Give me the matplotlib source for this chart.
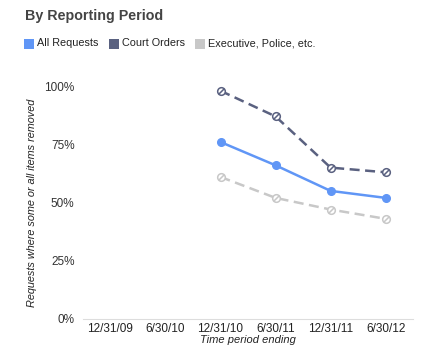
import matplotlib
matplotlib.use("Agg")
import matplotlib.pyplot as plt
from matplotlib.patches import Rectangle
from matplotlib.path import Path

periods = ["12/31/09", "6/30/10", "12/31/10", "6/30/11", "12/31/11", "6/30/12"]
all_requests = [None, None, 0.76, 0.66, 0.55, 0.52]
court_orders = [None, None, 0.98, 0.87, 0.65, 0.63]
executive = [None, None, 0.61, 0.52, 0.47, 0.43]

# circle with a slash through it
circ = Path.unit_circle()
slash = Path([(-0.7, -0.7), (0.7, 0.7)], [Path.MOVETO, Path.LINETO])
slashed = Path.make_compound_path(circ, slash)

series = [
    ("All Requests", all_requests, "#6096f6", "-", "o"),
    ("Court Orders", court_orders, "#5a6180", "--", slashed),
    ("Executive, Police, etc.", executive, "#c8c8c8", "--", slashed),
]

plt.rcParams["font.family"] = ["Liberation Sans", "DejaVu Sans"]

fig = plt.figure(figsize=(4.34, 3.62), dpi=100)
ax = fig.add_axes([0.191, 0.119, 0.761, 0.643])

x = list(range(len(periods)))
for name, vals, color, ls, mk in series:
    xs = [i for i, v in zip(x, vals) if v is not None]
    ys = [v for v in vals if v is not None]
    if ls == "-":
        ax.plot(xs, ys, color=color, linewidth=1.8, marker="o", markersize=5.5)
    else:
        ax.plot(xs, ys, color=color, linewidth=1.8, dashes=(4, 2.2),
                marker=mk, markersize=5.5, markerfacecolor="white",
                markeredgecolor=color, markeredgewidth=1.1)

ax.set_xlim(-0.5, len(periods) - 0.5)
ax.set_ylim(0, 1)
ax.set_xticks(x)
ax.set_xticklabels(periods, fontsize=8.5, color="#222222")
ax.set_yticks([0, 0.25, 0.5, 0.75, 1.0])
ax.set_yticklabels(["0%", "25%", "50%", "75%", "100%"], fontsize=8.5, color="#333333")
ax.tick_params(axis="x", length=0, pad=3)
ax.tick_params(axis="y", length=0, pad=6)
for s in ["top", "right", "left"]:
    ax.spines[s].set_visible(False)
ax.spines["bottom"].set_color("#dddddd")
ax.set_xlabel("Time period ending", fontsize=8, style="italic", color="#222222", labelpad=0)
ax.set_ylabel("Requests where some or all items removed", fontsize=7.8,
              style="italic", color="#222222", labelpad=5)

fig.text(0.057, 0.955, "By Reporting Period", fontsize=10.3, fontweight="bold",
         color="#444444", va="center")

lx = 0.055
ly = 0.88
for name, vals, color, ls, mk in series:
    fig.patches.append(Rectangle((lx, ly - 0.015), 0.023, 0.028, transform=fig.transFigure,
                                 facecolor=color, edgecolor="none"))
    t = fig.text(lx + 0.03, ly, name, fontsize=7.8, color="#222222", va="center")
    fig.canvas.draw()
    bb = t.get_window_extent().transformed(fig.transFigure.inverted())
    lx = bb.x1 + 0.024

fig.savefig("out.png", dpi=100)
